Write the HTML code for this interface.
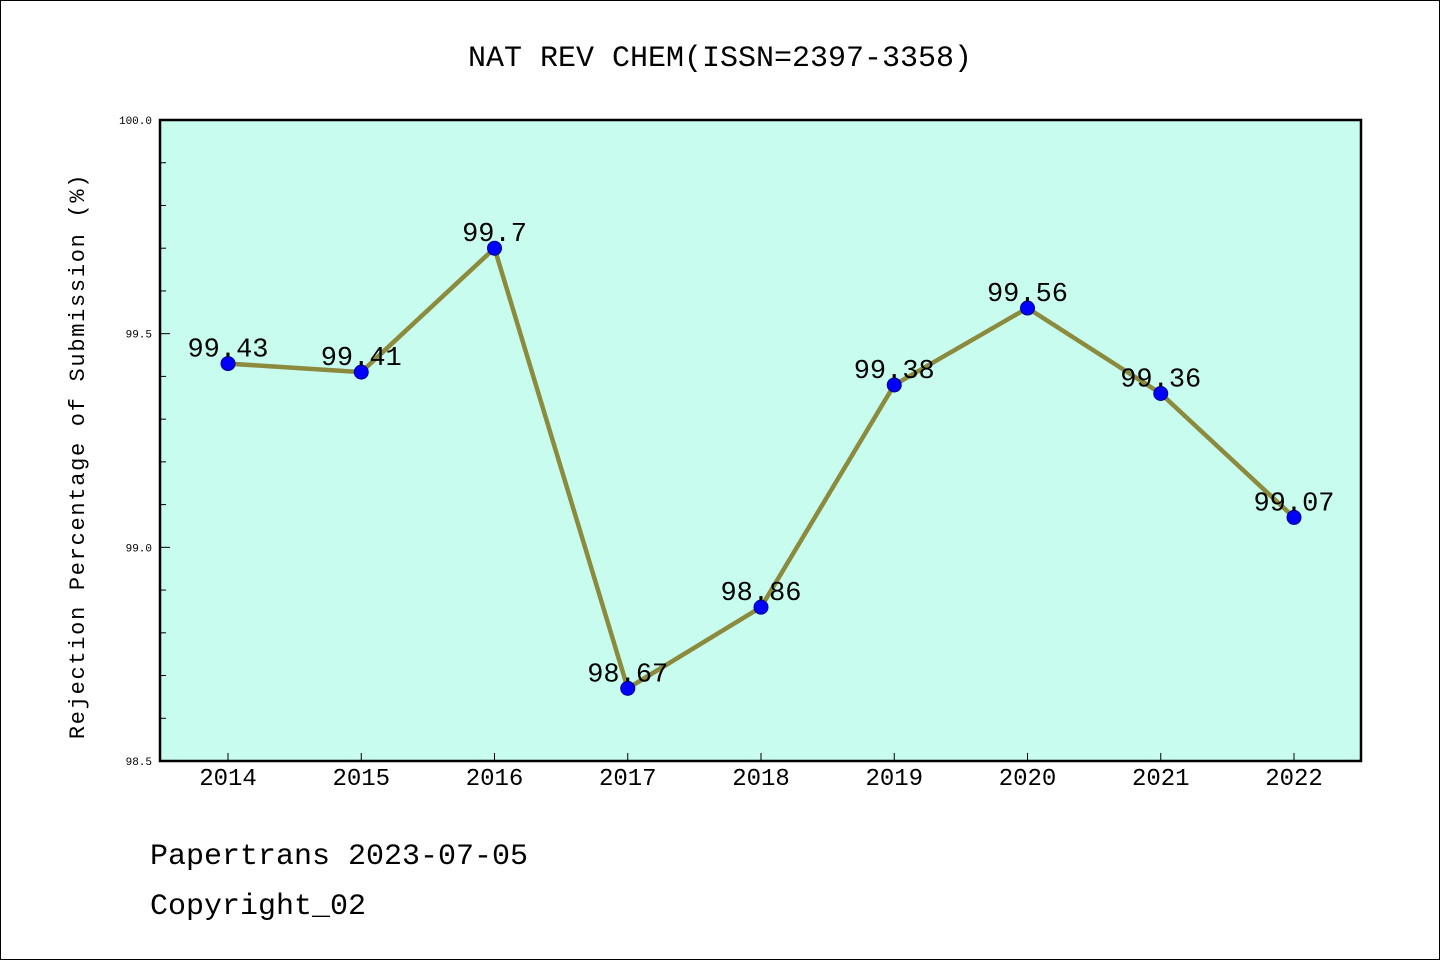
<!DOCTYPE html>
<html><head><meta charset="utf-8"><style>
html,body{margin:0;padding:0;background:#fff}
svg{display:block}
text{font-family:"Liberation Mono",monospace}
</style></head><body>
<svg id="chart" width="1440" height="960" xmlns="http://www.w3.org/2000/svg">
<rect x="0.5" y="0.5" width="1439" height="959" fill="#fff" stroke="#000" stroke-width="1"/>
<text x="720" y="66" font-size="30" text-anchor="middle">NAT REV CHEM(ISSN=2397-3358)</text>
<rect x="160" y="120" width="1201" height="641" fill="#c8fcef" stroke="#000" stroke-width="2.5"/>
<g id="yticks"></g><g id="xticks"></g><g id="series"></g>
<text transform="translate(84,456) rotate(-90)" font-size="22" text-anchor="middle" letter-spacing="1.7">Rejection Percentage of Submission (%)</text>
<text x="150" y="864" font-size="30">Papertrans 2023-07-05</text>
<text x="150" y="914" font-size="30">Copyright_02</text>
</svg>
<script>
const years=["2014","2015","2016","2017","2018","2019","2020","2021","2022"];
const values=[99.43,99.41,99.7,98.67,98.86,99.38,99.56,99.36,99.07];
const labels=["99.43","99.41","99.7","98.67","98.86","99.38","99.56","99.36","99.07"];
const yTickLabels=["98.5","99.0","99.5","100.0"];
const yMin=98.5,yMax=100.0;
const NS="http://www.w3.org/2000/svg";
function sx(i){return 228+i*(1294-228)/(years.length-1);}
function sy(v){return 761-(v-yMin)/(yMax-yMin)*641;}
function mk(t,a,p){const e=document.createElementNS(NS,t);for(const k in a)e.setAttribute(k,a[k]);p.appendChild(e);return e;}
const yt=document.getElementById('yticks');
for(let k=0;k<=15;k++){const v=yMin+k*0.1;const y=sy(v);const major=k%5===0;
const l=mk('line',{x1:160,x2:major?170:166,y1:y,y2:y,stroke:'#000','stroke-width':1},yt);

}
yTickLabels.forEach(s=>{const t=mk('text',{x:152,y:sy(parseFloat(s))+4,'font-size':11,'text-anchor':'end'},yt);t.textContent=s;

});
const xt=document.getElementById('xticks');
years.forEach((yr,i)=>{const l=mk('line',{x1:sx(i),x2:sx(i),y1:761,y2:753,stroke:'#000','stroke-width':1},xt);


const t=mk('text',{x:sx(i),y:785,'font-size':24,'text-anchor':'middle'},xt);t.textContent=yr;

});
const g=document.getElementById('series');
const pl=mk('polyline',{points:values.map((v,i)=>sx(i)+','+sy(v)).join(' '),fill:'none',stroke:'#8c8a3c','stroke-width':4.5,'stroke-linejoin':'round'},g);


values.forEach((v,i)=>{const c=mk('circle',{cx:sx(i),cy:sy(v),r:7,fill:'#0000ff',stroke:'#00008b','stroke-width':1},g);


const t=mk('text',{x:sx(i),y:sy(v)-7,'font-size':27,'text-anchor':'middle'},g);t.textContent=labels[i];

});
</script>
</body></html>
